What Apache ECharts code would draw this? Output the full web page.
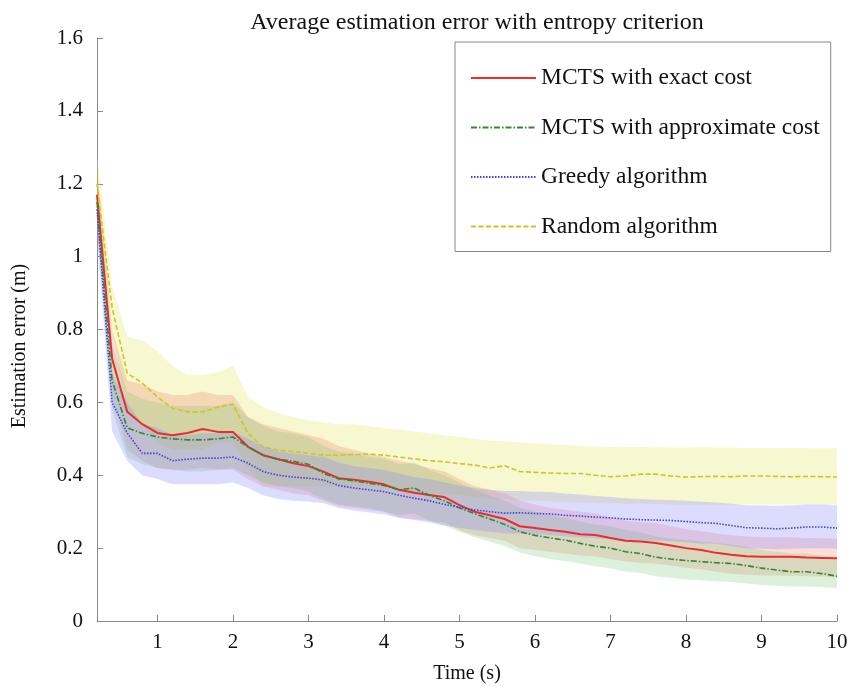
<!DOCTYPE html>
<html>
<head>
<meta charset="utf-8">
<script src="https://cdn.jsdelivr.net/npm/echarts@6/dist/echarts.min.js"></script>
<style>html,body{margin:0;padding:0;background:#fff}#c{width:851px;height:687px}</style>
</head>
<body>
<div id="c"></div>
<script>
var timeS = [0.2,0.4,0.6,0.8,1.0,1.2,1.4,1.6,1.8,2.0,2.2,2.4,2.6,2.8,3.0,3.2,3.4,3.6,3.8,4.0,4.2,4.4,4.6,4.8,5.0,5.2,5.4,5.6,5.8,6.0,6.2,6.4,6.6,6.8,7.0,7.2,7.4,7.6,7.8,8.0,8.2,8.4,8.6,8.8,9.0,9.2,9.4,9.6,9.8,10.0];

var mctsExact = [1.17,0.72,0.574,0.54,0.516,0.51,0.516,0.527,0.519,0.519,0.478,0.455,0.444,0.433,0.425,0.41,0.392,0.388,0.382,0.375,0.36,0.352,0.346,0.34,0.318,0.30,0.29,0.28,0.26,0.255,0.25,0.245,0.238,0.236,0.228,0.22,0.218,0.214,0.207,0.2,0.195,0.187,0.182,0.178,0.176,0.176,0.176,0.174,0.173,0.172];
var mctsExactUpper = [1.25,0.8,0.66,0.65,0.63,0.62,0.62,0.63,0.62,0.62,0.56,0.54,0.53,0.52,0.51,0.50,0.48,0.47,0.46,0.45,0.44,0.43,0.42,0.41,0.39,0.37,0.36,0.35,0.33,0.32,0.31,0.305,0.30,0.295,0.285,0.275,0.272,0.268,0.26,0.252,0.247,0.24,0.235,0.232,0.23,0.23,0.23,0.228,0.227,0.226];
var mctsExactLower = [1.09,0.62,0.47,0.44,0.42,0.415,0.415,0.42,0.415,0.415,0.39,0.37,0.36,0.35,0.345,0.33,0.315,0.31,0.305,0.3,0.285,0.28,0.275,0.27,0.25,0.235,0.228,0.22,0.2,0.195,0.19,0.185,0.18,0.178,0.17,0.163,0.16,0.157,0.152,0.146,0.142,0.135,0.13,0.127,0.125,0.125,0.125,0.123,0.122,0.12];

var mctsApprox = [1.15,0.66,0.53,0.515,0.505,0.50,0.497,0.497,0.50,0.505,0.478,0.455,0.444,0.438,0.43,0.405,0.39,0.385,0.378,0.372,0.36,0.365,0.345,0.33,0.31,0.295,0.28,0.265,0.245,0.235,0.228,0.222,0.213,0.205,0.2,0.19,0.185,0.175,0.17,0.166,0.163,0.16,0.158,0.152,0.145,0.14,0.135,0.135,0.13,0.123];
var mctsApproxUpper = [1.22,0.76,0.63,0.61,0.6,0.59,0.59,0.59,0.59,0.6,0.56,0.535,0.52,0.515,0.505,0.48,0.465,0.46,0.45,0.445,0.43,0.435,0.415,0.40,0.38,0.36,0.345,0.33,0.31,0.3,0.29,0.283,0.273,0.265,0.26,0.25,0.243,0.232,0.226,0.222,0.218,0.214,0.21,0.203,0.195,0.19,0.185,0.185,0.18,0.172];
var mctsApproxLower = [1.08,0.58,0.45,0.43,0.42,0.415,0.41,0.41,0.415,0.42,0.4,0.38,0.37,0.365,0.355,0.335,0.32,0.315,0.31,0.3,0.29,0.295,0.275,0.262,0.245,0.23,0.218,0.205,0.188,0.178,0.17,0.165,0.157,0.15,0.145,0.136,0.132,0.123,0.118,0.114,0.112,0.109,0.107,0.103,0.099,0.097,0.095,0.095,0.093,0.09];

var greedy = [1.13,0.60,0.516,0.46,0.46,0.44,0.444,0.447,0.447,0.45,0.433,0.41,0.40,0.395,0.392,0.387,0.372,0.365,0.36,0.355,0.345,0.337,0.33,0.32,0.312,0.305,0.30,0.296,0.297,0.295,0.294,0.29,0.288,0.285,0.283,0.28,0.278,0.277,0.276,0.273,0.27,0.268,0.262,0.256,0.255,0.253,0.255,0.258,0.258,0.255];
var greedyUpper = [1.2,0.68,0.6,0.54,0.53,0.51,0.51,0.515,0.515,0.52,0.5,0.48,0.465,0.46,0.455,0.45,0.435,0.425,0.42,0.415,0.405,0.395,0.39,0.38,0.372,0.365,0.36,0.357,0.357,0.355,0.354,0.35,0.347,0.343,0.34,0.337,0.335,0.333,0.332,0.33,0.327,0.325,0.322,0.318,0.317,0.316,0.318,0.32,0.32,0.318];
var greedyLower = [1.06,0.52,0.44,0.4,0.39,0.375,0.375,0.375,0.375,0.38,0.365,0.345,0.335,0.33,0.328,0.323,0.31,0.303,0.298,0.293,0.283,0.277,0.27,0.262,0.255,0.25,0.245,0.24,0.24,0.238,0.236,0.232,0.23,0.227,0.225,0.222,0.22,0.22,0.219,0.216,0.213,0.212,0.206,0.2,0.198,0.197,0.198,0.2,0.2,0.198];

var randomAlg = [1.2,0.86,0.68,0.653,0.615,0.584,0.574,0.574,0.587,0.595,0.515,0.478,0.469,0.465,0.46,0.455,0.455,0.457,0.458,0.455,0.45,0.445,0.44,0.437,0.432,0.428,0.42,0.426,0.41,0.408,0.406,0.405,0.405,0.4,0.396,0.398,0.403,0.403,0.398,0.395,0.396,0.397,0.396,0.398,0.398,0.397,0.396,0.397,0.396,0.395];
var randomUpper = [1.28,0.92,0.78,0.77,0.74,0.70,0.675,0.675,0.683,0.70,0.615,0.587,0.57,0.56,0.55,0.545,0.54,0.54,0.535,0.53,0.525,0.52,0.515,0.51,0.505,0.50,0.495,0.493,0.49,0.488,0.485,0.483,0.48,0.478,0.478,0.477,0.478,0.477,0.476,0.476,0.477,0.476,0.476,0.475,0.475,0.475,0.475,0.474,0.474,0.474];
var randomLower = [1.12,0.8,0.58,0.54,0.49,0.47,0.47,0.47,0.49,0.49,0.42,0.37,0.37,0.37,0.37,0.37,0.37,0.37,0.37,0.365,0.36,0.355,0.35,0.35,0.345,0.34,0.335,0.335,0.33,0.33,0.328,0.326,0.325,0.324,0.323,0.322,0.322,0.321,0.32,0.32,0.32,0.32,0.32,0.32,0.32,0.32,0.32,0.32,0.32,0.32];

var xTicks = [1,2,3,4,5,6,7,8,9,10];

var FONT = '"Liberation Serif", "Times New Roman", serif';

function pairs(ys){ return timeS.map(function(t,i){ return [t, ys[i]]; }); }

function band(name, lo, hi, fill){
  return {
    type: 'custom', name: name, silent: true, z: 1,
    data: timeS.map(function(t,i){ return [t, lo[i], hi[i]]; }),
    encode: { x: 0, y: [1,2] },
    renderItem: function(params, api){
      if (params.dataIndex !== 0) return null;
      var pts = [];
      for (var i = 0; i < timeS.length; i++) pts.push(api.coord([timeS[i], hi[i]]));
      for (var j = timeS.length - 1; j >= 0; j--) pts.push(api.coord([timeS[j], lo[j]]));
      return { type: 'polygon', shape: { points: pts }, style: { fill: fill } };
    }
  };
}

function line(name, ys, color, width, type){
  return {
    type: 'line', name: name, data: pairs(ys), z: 3,
    symbol: 'none', showSymbol: false, smooth: false,
    lineStyle: { color: color, width: width, type: type },
    itemStyle: { color: color }
  };
}

var chart = echarts.init(document.getElementById('c'), null, { renderer: 'canvas' });
chart.setOption({
  animation: false,
  backgroundColor: '#ffffff',
  title: {
    text: 'Average estimation error with entropy criterion',
    left: 472, top: 6, textAlign: 'center',
    textStyle: { fontFamily: FONT, fontSize: 24, fontWeight: 'normal', color: '#111' }
  },
  grid: { left: 97, right: 14, top: 38, bottom: 66, outerBoundsMode: 'none', containLabel: false },
  graphic: [{
    type: 'text', x: 20, y: 346, rotation: Math.PI / 2, silent: true,
    style: { text: 'Estimation error (m)', fontFamily: FONT, fontSize: 20, fill: '#111', align: 'center', verticalAlign: 'middle' }
  }],
  legend: {
    data: ['MCTS with exact cost', 'MCTS with approximate cost', 'Greedy algorithm', 'Random algorithm'],
    orient: 'vertical', left: 455, top: 42,
    padding: [24, 11, 13, 15],
    itemGap: 25.5, itemWidth: 65, itemHeight: 14,
    itemStyle: { opacity: 0 },
    borderColor: '#888', borderWidth: 1, backgroundColor: '#fff',
    textStyle: { fontFamily: FONT, fontSize: 23.5, color: '#111' }
  },
  xAxis: {
    type: 'value', min: 0.2, max: 10,
    name: 'Time (s)', nameLocation: 'middle', nameGap: 43,
    nameTextStyle: { fontFamily: FONT, fontSize: 20, color: '#111' },
    axisLine: { lineStyle: { color: '#888', width: 1 } },
    axisTick: { inside: true, length: 6, customValues: xTicks, lineStyle: { color: '#888' } },
    axisLabel: { customValues: xTicks, fontFamily: FONT, fontSize: 21, color: '#111', margin: 11 },
    splitLine: { show: false }
  },
  yAxis: {
    type: 'value', min: 0, max: 1.6, interval: 0.2,
    axisLine: { show: true, lineStyle: { color: '#888', width: 1 } },
    axisTick: { show: true, inside: true, length: 6, lineStyle: { color: '#888' } },
    axisLabel: { fontFamily: FONT, fontSize: 21, color: '#111', margin: 14 },
    splitLine: { show: false }
  },
  series: [
    band('Random band', randomLower, randomUpper, 'rgba(232,232,120,0.35)'),
    band('Exact band', mctsExactLower, mctsExactUpper, 'rgba(245,120,100,0.25)'),
    band('Approx band', mctsApproxLower, mctsApproxUpper, 'rgba(110,200,110,0.25)'),
    band('Greedy band', greedyLower, greedyUpper, 'rgba(130,130,255,0.28)'),
    line('MCTS with exact cost', mctsExact, '#ee2b2b', 2, 'solid'),
    line('MCTS with approximate cost', mctsApprox, '#2f8a2f', 1.6, [6,2,1.5,2]),
    line('Greedy algorithm', greedy, '#4040e0', 1.6, [1.5,1.5]),
    line('Random algorithm', randomAlg, '#c8c828', 1.6, [5,2.5])
  ]
});
</script>
</body>
</html>
